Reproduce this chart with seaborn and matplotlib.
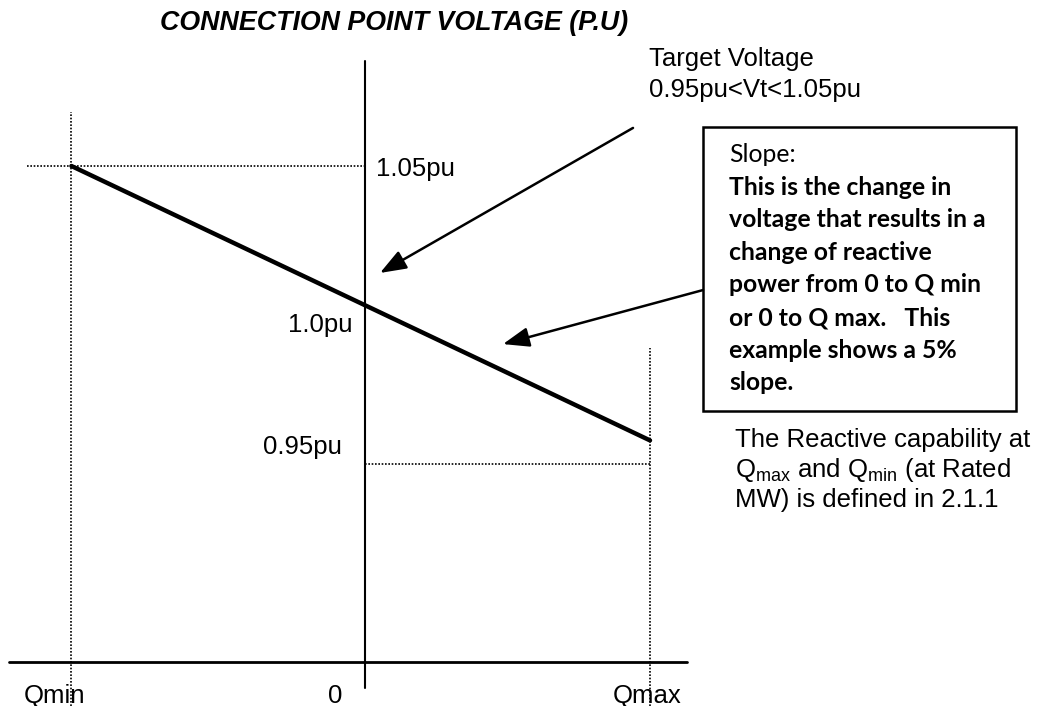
import matplotlib
matplotlib.use("Agg")
import matplotlib.pyplot as plt
from matplotlib.patches import Rectangle
import pandas as pd
import seaborn as sns

# Reactive power positions (in units of Qmax) and their labels
q_labels = ['Qmin', '0', 'Qmax']
q_values = [-1.03, 0.0, 1.0]

# Droop (slope) characteristic, voltage in p.u.
droop_q = [-1.03, 1.0]
droop_v = [1.05, 0.952]

# Voltage labels on the vertical axis
v_labels = ['1.05pu', '1.0pu', '0.95pu']
v_label_pos = [1.0464, 0.9907, 0.9471]
v_guide_high = 1.05
v_guide_low = 0.9435

# Where the schematic axes sit
x_axis_v = 0.873

box_lines = ['Slope:',
             'This is the change in',
             'voltage that results in a',
             'change of reactive',
             'power from 0 to Q min',
             'or 0 to Q max.   This',
             'example shows a 5%',
             'slope.']

note_lines = ['The Reactive capability at',
              r'Q$_{\mathregular{max}}$ and Q$_{\mathregular{min}}$ (at Rated',
              'MW) is defined in 2.1.1']

sns.set_theme(style='white')
plt.rcParams['font.family'] = ['Liberation Sans', 'DejaVu Sans']
plt.rcParams['text.color'] = 'black'
plt.rcParams['mathtext.fontset'] = 'custom'
plt.rcParams['mathtext.rm'] = 'Liberation Sans'

fig = plt.figure(figsize=(10.51, 7.06), dpi=100)
ax = fig.add_axes([0, 0, 1, 1])
ax.set_xlim(-1.2807, 2.4070)
ax.set_ylim(0.857143, 1.10929)
ax.axis('off')

dot = (0, (1, 1))
ymin = 0.857143

# dotted guide lines
ax.plot([q_values[0], q_values[0]], [ymin, 1.0693], color='black', lw=1.2, ls=dot)
ax.plot([q_values[2], q_values[2]], [ymin, 0.985], color='black', lw=1.2, ls=dot)
ax.plot([-1.186, q_values[1]], [v_guide_high, v_guide_high], color='black', lw=1.2, ls=dot)
ax.plot([q_values[1], q_values[2]], [v_guide_low, v_guide_low], color='black', lw=1.2, ls=dot)

# axes of the diagram
ax.plot([q_values[1], q_values[1]], [0.8636, 1.0875], color='black', lw=1.5)
ax.plot([-1.249, 1.13], [x_axis_v, x_axis_v], color='black', lw=2)

# the droop characteristic
df = pd.DataFrame({'Q': droop_q, 'V': droop_v})
sns.lineplot(data=df, x='Q', y='V', ax=ax, color='black', lw=3.2)

# labels
ax.text(0.1035, 1.1011, 'CONNECTION POINT VOLTAGE (P.U)', fontsize=19.3,
        fontweight='bold', fontstyle='italic', ha='center', va='center')
ax.text(0.0386, v_label_pos[0], v_labels[0], fontsize=18.5, ha='left', va='baseline')
ax.text(-0.0456, v_label_pos[1], v_labels[1], fontsize=18.5, ha='right', va='baseline')
ax.text(-0.0807, v_label_pos[2], v_labels[2], fontsize=18.5, ha='right', va='baseline')

q_label_x = [-1.0912, -0.1053, 0.9895]
for lab, xq in zip(q_labels, q_label_x):
    ax.text(xq, 0.8582, lab, fontsize=18.5, ha='center', va='baseline')

ax.text(0.9965, 1.0857, 'Target Voltage', fontsize=18.5, ha='left', va='baseline')
ax.text(0.9965, 1.0746, '0.95pu<Vt<1.05pu', fontsize=18.5, ha='left', va='baseline')

for i, line in enumerate(note_lines):
    ax.text(1.2982, 0.9496 - i * 0.01071, line, fontsize=18.5, ha='left', va='baseline')

# slope box
ax.add_patch(Rectangle((1.186, 0.9625), 2.2842 - 1.186, 1.06393 - 0.9625,
                       fill=False, edgecolor='black', lw=1.8))
for i, line in enumerate(box_lines):
    yb = 1.0 - (162 + i * 32.6 - 306) / 2800
    ax.text(1.2772, yb, line, fontsize=17.8, family=['Lato', 'DejaVu Sans'],
            fontweight='normal' if i == 0 else 'bold', ha='left', va='baseline')

# arrows
arrow = dict(arrowstyle='-|>,head_length=0.8,head_width=0.3', color='black',
             lw=1.8, mutation_scale=20, shrinkA=0, shrinkB=0)
ax.annotate('', xy=(0.0526, 1.0118), xytext=(0.9404, 1.0636), arrowprops=arrow)
ax.annotate('', xy=(0.4842, 0.9864), xytext=(1.186, 1.0057), arrowprops=arrow)

fig.savefig('out.png', dpi=100, facecolor='white')
